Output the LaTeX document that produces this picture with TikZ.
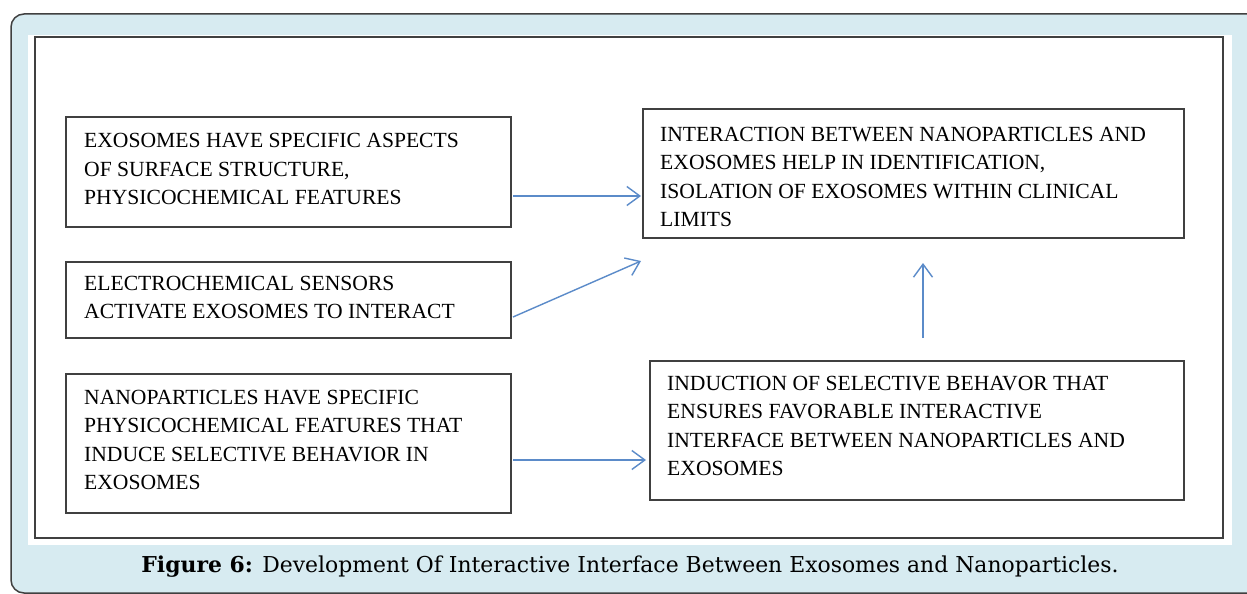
\documentclass[tikz,border=0pt]{standalone}
\usepackage{fontspec}
\setmainfont{Liberation Serif}
\newfontfamily\capfont{DejaVu Serif}
\usetikzlibrary{arrows.meta}
\definecolor{panelblue}{HTML}{D7EBF1}
\definecolor{arrowblue}{HTML}{5B8BC9}
\definecolor{edgegray}{HTML}{404040}
\begin{document}
\begin{tikzpicture}[x=1pt,y=-1pt,
  stepbox/.style={draw=edgegray, line width=1.4pt, inner sep=0pt, outer sep=0pt},
  boxtext/.style={anchor=north west, inner sep=0pt, align=left, text=black,
    font=\fontsize{21.6}{28.5}\selectfont},
  conn/.style={draw=arrowblue, line width=1.4pt,
    -{Straight Barb[length=13pt,width=19pt,line width=1.4pt]}}]
\clip (0,0) rectangle (1247,594);
% background panel
\fill[white] (0,0) rectangle (1247,594);
\draw[draw=edgegray, line width=1.5pt, fill=panelblue, rounded corners=13pt]
  (11,14) rectangle (1275,593);
\fill[white] (28,35) rectangle (1232,545);
\draw[draw=edgegray, line width=2pt] (35,37) rectangle (1223,538);
% boxes
\node[stepbox, minimum width=445pt, minimum height=110pt] (b1) at (288.5,172) {};
\node[stepbox, minimum width=445pt, minimum height=76pt] (b2) at (288.5,300) {};
\node[stepbox, minimum width=445pt, minimum height=139pt] (b3) at (288.5,443.5) {};
\node[stepbox, minimum width=541pt, minimum height=129pt] (b4) at (913.5,173.5) {};
\node[stepbox, minimum width=534pt, minimum height=139pt] (b5) at (917,430.5) {};
% texts
\node[boxtext] (t1) at (84,133) {EXOSOMES HAVE SPECIFIC ASPECTS\\OF SURFACE STRUCTURE,\\PHYSICOCHEMICAL FEATURES};
\node[boxtext] (t2) at (84,275.5) {ELECTROCHEMICAL SENSORS\\ACTIVATE EXOSOMES TO INTERACT};
\node[boxtext] (t3) at (84,389.5) {NANOPARTICLES HAVE SPECIFIC\\PHYSICOCHEMICAL FEATURES THAT\\INDUCE SELECTIVE BEHAVIOR IN\\EXOSOMES};
\node[boxtext] (t4) at (660,126.5) {INTERACTION BETWEEN NANOPARTICLES AND\\EXOSOMES HELP IN IDENTIFICATION,\\ISOLATION OF EXOSOMES WITHIN CLINICAL\\LIMITS};
\node[boxtext] (t5) at (667,375.5) {INDUCTION OF SELECTIVE BEHAVOR THAT\\ENSURES FAVORABLE INTERACTIVE\\INTERFACE BETWEEN NANOPARTICLES AND\\EXOSOMES};
% connectors
\draw[conn] ([xshift=2pt,yshift=31pt]b1.south east) -- ([xshift=-2pt,yshift=42pt]b4.south west);
\draw[conn] ([xshift=2pt,yshift=21pt]b2.south east) -- ([xshift=-2pt,yshift=-23pt]b4.south west);
\draw[conn] ([xshift=2pt,yshift=53pt]b3.south east) -- ([xshift=-4pt,yshift=40pt]b5.south west);
\draw[conn] ([xshift=6pt,yshift=23pt]b5.north) -- ([xshift=9.5pt,yshift=-25pt]b4.south);
% caption
\node[anchor=base, inner sep=0pt] (cap) at (630,572)
  {\capfont\fontsize{21.9}{26}\selectfont\textbf{Figure 6:} Development Of Interactive Interface Between Exosomes and Nanoparticles.};
\end{tikzpicture}
\end{document}
